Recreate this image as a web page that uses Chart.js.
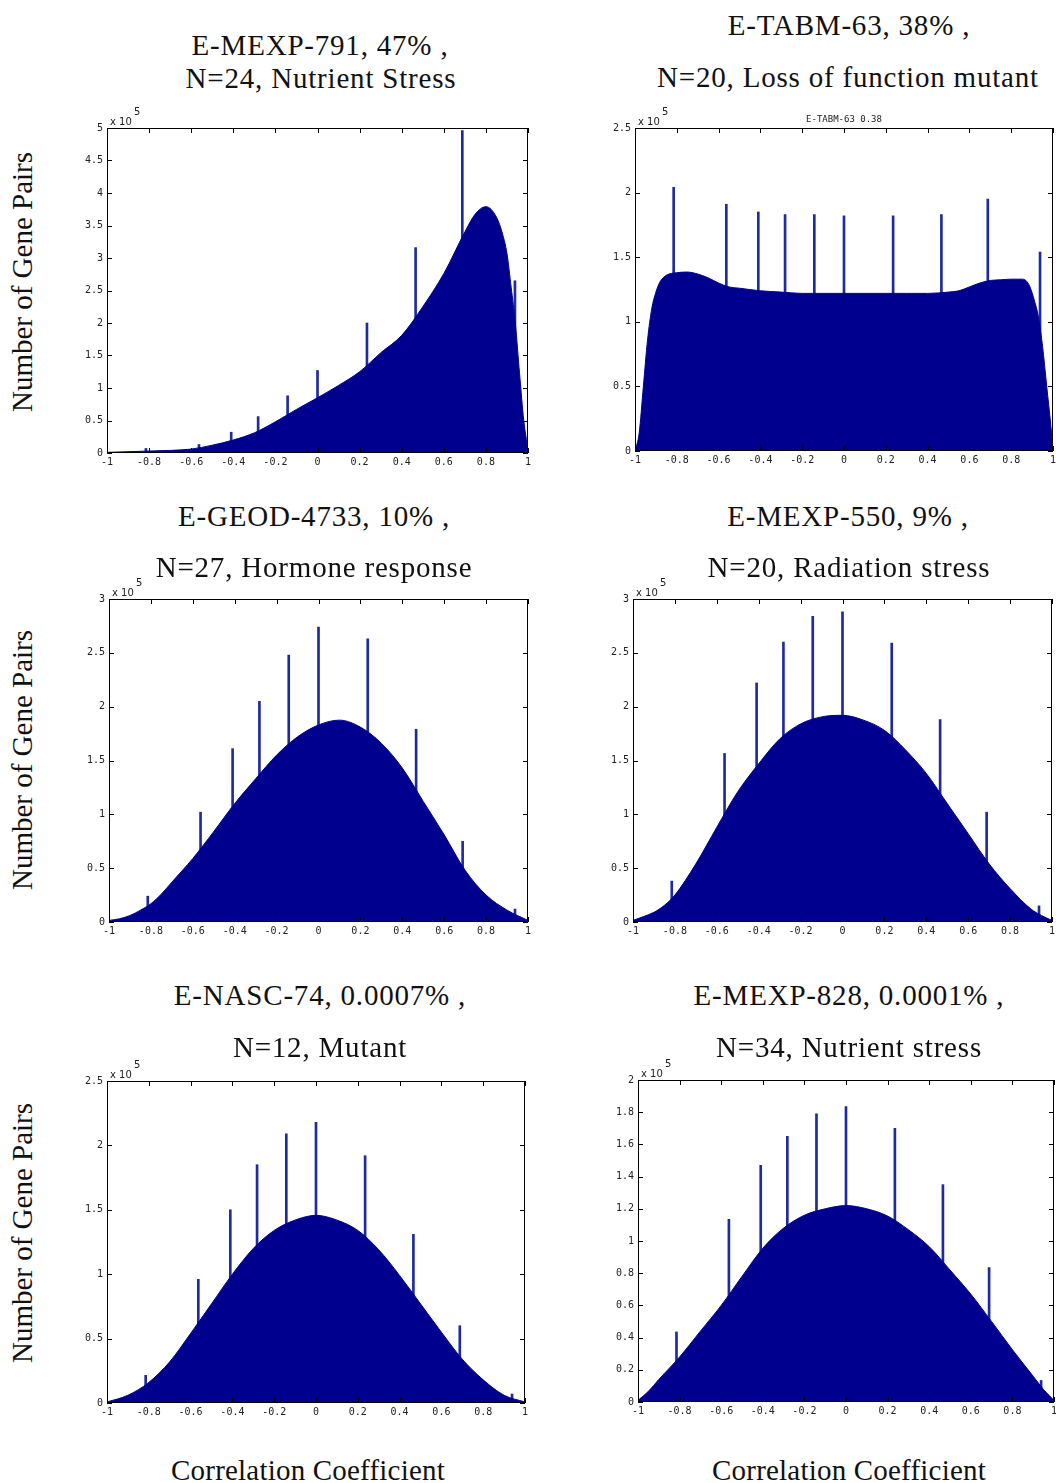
<!DOCTYPE html>
<html>
<head>
<meta charset="utf-8">
<script src="https://cdn.jsdelivr.net/npm/chart.js@4.4.0/dist/chart.umd.min.js"></script>
<style>
  body { margin: 0; background: #fff; width: 1056px; height: 1483px; position: relative; overflow: hidden; }
  canvas { position: absolute; }
  .t { position: absolute; font-family: "Liberation Serif", serif; font-size: 29px; letter-spacing: 0.8px; color: #111; white-space: nowrap; transform: translate(-50%, -50%); }
  .xl { position: absolute; font-family: "Liberation Serif", serif; font-size: 29px; letter-spacing: 0.2px; color: #111; white-space: nowrap; transform: translate(-50%, -50%); }
  .yl { position: absolute; font-family: "Liberation Serif", serif; font-size: 29px; color: #111; white-space: nowrap; transform: translate(-50%, -50%) rotate(-90deg); }
</style>
</head>
<body>
<script>
// spikes sit at the same correlation values in every panel
const spikeX = [-0.815, -0.563, -0.41, -0.282, -0.142, 0, 0.235, 0.466, 0.688, 0.938];

// E-MEXP-791 (counts x 10^5)
const p1X = [-1, -0.9, -0.8, -0.7, -0.6, -0.5, -0.4, -0.3, -0.2, -0.1, 0, 0.1, 0.2, 0.3, 0.4, 0.5, 0.6, 0.7, 0.75, 0.8, 0.85, 0.88, 0.9, 0.92, 0.94, 0.96, 0.98, 1];
const p1Y = [0.01, 0.02, 0.03, 0.04, 0.06, 0.12, 0.2, 0.31, 0.48, 0.67, 0.85, 1.04, 1.25, 1.54, 1.81, 2.25, 2.76, 3.4, 3.68, 3.79, 3.63, 3.36, 3.07, 2.55, 1.99, 1.22, 0.5, 0.05];
const p1Spikes = [0.07, 0.13, 0.32, 0.56, 0.88, 1.27, 2.0, 3.16, 4.96, 2.65];

// E-TABM-63
const p2X = [-1, -0.98, -0.96, -0.94, -0.92, -0.9, -0.88, -0.85, -0.8, -0.75, -0.7, -0.65, -0.6, -0.55, -0.5, -0.4, -0.3, -0.2, -0.1, 0, 0.1, 0.2, 0.3, 0.4, 0.5, 0.55, 0.6, 0.65, 0.7, 0.75, 0.8, 0.85, 0.87, 0.89, 0.91, 0.93, 0.95, 0.97, 0.99, 1];
const p2Y = [0, 0.14, 0.5, 0.86, 1.1, 1.23, 1.31, 1.36, 1.38, 1.385, 1.37, 1.34, 1.30, 1.27, 1.26, 1.24, 1.23, 1.22, 1.22, 1.22, 1.22, 1.22, 1.22, 1.22, 1.23, 1.24, 1.27, 1.30, 1.32, 1.325, 1.33, 1.33, 1.32, 1.27, 1.17, 1.04, 0.81, 0.5, 0.19, 0];
const p2Spikes = [2.04, 1.91, 1.85, 1.83, 1.83, 1.82, 1.82, 1.83, 1.95, 1.54];

// E-GEOD-4733
const p3X = [-1, -0.95, -0.9, -0.85, -0.8, -0.75, -0.7, -0.6, -0.5, -0.4, -0.3, -0.2, -0.1, 0, 0.1, 0.2, 0.3, 0.4, 0.5, 0.6, 0.7, 0.8, 0.9, 0.95, 1];
const p3Y = [0.015, 0.03, 0.06, 0.11, 0.17, 0.26, 0.37, 0.59, 0.84, 1.10, 1.33, 1.55, 1.72, 1.83, 1.875, 1.81, 1.66, 1.43, 1.12, 0.81, 0.48, 0.25, 0.11, 0.06, 0.015];
const p3Spikes = [0.24, 1.02, 1.61, 2.05, 2.48, 2.74, 2.63, 1.79, 0.75, 0.12];

// E-MEXP-550
const p4X = [-1, -0.95, -0.9, -0.85, -0.8, -0.7, -0.6, -0.5, -0.4, -0.3, -0.2, -0.1, 0, 0.1, 0.2, 0.3, 0.4, 0.5, 0.6, 0.7, 0.8, 0.9, 0.95, 1];
const p4Y = [0.015, 0.05, 0.09, 0.155, 0.25, 0.54, 0.88, 1.21, 1.47, 1.70, 1.84, 1.905, 1.92, 1.875, 1.78, 1.6, 1.38, 1.10, 0.82, 0.54, 0.31, 0.12, 0.06, 0.015];
const p4Spikes = [0.38, 1.565, 2.22, 2.60, 2.84, 2.88, 2.59, 1.88, 1.02, 0.15];

// E-NASC-74
const p5X = [-1, -0.9, -0.8, -0.7, -0.6, -0.5, -0.4, -0.3, -0.2, -0.1, 0, 0.1, 0.2, 0.3, 0.4, 0.5, 0.6, 0.7, 0.8, 0.9, 1];
const p5Y = [0.008, 0.06, 0.16, 0.32, 0.54, 0.77, 1.0, 1.2, 1.34, 1.42, 1.457, 1.42, 1.34, 1.19, 0.99, 0.77, 0.55, 0.34, 0.18, 0.06, 0.008];
const p5Spikes = [0.215, 0.96, 1.50, 1.85, 2.09, 2.18, 1.92, 1.31, 0.60, 0.07];

// E-MEXP-828
const p6X = [-1, -0.95, -0.9, -0.8, -0.7, -0.6, -0.5, -0.4, -0.3, -0.2, -0.1, 0, 0.1, 0.2, 0.3, 0.4, 0.5, 0.6, 0.7, 0.8, 0.9, 0.95, 1];
const p6Y = [0.01, 0.066, 0.14, 0.28, 0.44, 0.60, 0.78, 0.955, 1.08, 1.16, 1.20, 1.22, 1.20, 1.155, 1.07, 0.965, 0.82, 0.67, 0.50, 0.325, 0.16, 0.077, 0.01];
const p6Spikes = [0.435, 1.135, 1.47, 1.65, 1.79, 1.835, 1.70, 1.35, 0.835, 0.134];

const titles = [
  ['E-MEXP-791, 47% ,', 'N=24, Nutrient Stress'],
  ['E-TABM-63, 38% ,', 'N=20, Loss of function mutant'],
  ['E-GEOD-4733, 10% ,', 'N=27, Hormone response'],
  ['E-MEXP-550, 9% ,', 'N=20, Radiation stress'],
  ['E-NASC-74, 0.0007% ,', 'N=12, Mutant'],
  ['E-MEXP-828, 0.0001% ,', 'N=34, Nutrient stress'],
];
const yTitle = 'Number of Gene Pairs';
const xTitle = 'Correlation Coefficient';

// plot box [left, top, right, bottom] and title positions
const panels = [
  { x: p1X, y: p1Y, spikes: p1Spikes, yMax: 5, yStep: 0.5, box: [107, 128, 528, 453], tpos: [[320, 45], [321, 78]] },
  { x: p2X, y: p2Y, spikes: p2Spikes, yMax: 2.5, yStep: 0.5, box: [635, 128, 1053, 451], tpos: [[849, 25], [848, 77]], sub: 'E-TABM-63 0.38' },
  { x: p3X, y: p3Y, spikes: p3Spikes, yMax: 3, yStep: 0.5, box: [109, 599, 528, 922], tpos: [[314, 516], [314, 567]] },
  { x: p4X, y: p4Y, spikes: p4Spikes, yMax: 3, yStep: 0.5, box: [633, 599, 1052, 922], tpos: [[848, 516], [849, 567]] },
  { x: p5X, y: p5Y, spikes: p5Spikes, yMax: 2.5, yStep: 0.5, box: [107, 1081, 525, 1403], tpos: [[320, 995], [320, 1047]] },
  { x: p6X, y: p6Y, spikes: p6Spikes, yMax: 2, yStep: 0.2, box: [638, 1080, 1054, 1402], tpos: [[849, 995], [849, 1047]] },
];

const PAD_L = 45, PAD_T = 25, PAD_R = 8, PAD_B = 22;
const tickFont = { family: '"DejaVu Sans Mono", monospace', size: 10 };

// matlab-ish box with inside ticks on all sides + exponent label
const frame = {
  id: 'frame',
  afterDatasetsDraw(chart, args, opts) {
    const { ctx, chartArea: a, scales } = chart;
    ctx.save();
    ctx.strokeStyle = '#000';
    ctx.lineWidth = 1;
    ctx.strokeRect(a.left + 0.5, a.top + 0.5, a.right - a.left - 1, a.bottom - a.top - 1);
    ctx.beginPath();
    scales.x.ticks.forEach(t => {
      const px = Math.round(scales.x.getPixelForValue(t.value)) + 0.5;
      ctx.moveTo(px, a.bottom); ctx.lineTo(px, a.bottom - 5);
      ctx.moveTo(px, a.top); ctx.lineTo(px, a.top + 5);
    });
    scales.y.ticks.forEach(t => {
      const py = Math.round(scales.y.getPixelForValue(t.value)) + 0.5;
      ctx.moveTo(a.left, py); ctx.lineTo(a.left + 5, py);
      ctx.moveTo(a.right, py); ctx.lineTo(a.right - 5, py);
    });
    ctx.stroke();
    ctx.fillStyle = '#222';
    ctx.font = '10px "DejaVu Sans", sans-serif';
    ctx.textAlign = 'left';
    ctx.fillText('x 10', a.left + 3, a.top - 3);
    ctx.fillText('5', a.left + 27, a.top - 13);
    if (opts.sub) {
      ctx.textAlign = 'center';
      ctx.font = '9px "DejaVu Sans Mono", monospace';
      ctx.fillText(opts.sub, (a.left + a.right) / 2, a.top - 6);
    }
    ctx.restore();
  }
};

const fmt = v => String(Math.round(v * 10) / 10);

panels.forEach((p, i) => {
  const [L, T, R, B] = p.box;
  const cv = document.createElement('canvas');
  cv.width = R - L + PAD_L + PAD_R;
  cv.height = B - T + PAD_T + PAD_B;
  cv.style.left = (L - PAD_L) + 'px';
  cv.style.top = (T - PAD_T) + 'px';
  document.body.appendChild(cv);

  new Chart(cv, {
    type: 'line',
    data: {
      datasets: [
        {
          type: 'line',
          data: p.x.map((x, k) => ({ x, y: p.y[k] })),
          fill: 'origin',
          backgroundColor: '#00008f',
          borderColor: '#000096',
          borderWidth: 1,
          pointRadius: 0,
          cubicInterpolationMode: 'monotone',
          order: 1
        },
        {
          type: 'bar',
          data: spikeX.map((x, k) => ({ x, y: p.spikes[k] })),
          backgroundColor: '#1f2aa0',
          barThickness: 2,
          order: 2
        }
      ]
    },
    options: {
      responsive: false,
      animation: false,
      devicePixelRatio: 1,
      layout: { padding: { top: PAD_T, right: PAD_R, left: 0, bottom: 0 } },
      plugins: { legend: { display: false }, tooltip: { enabled: false }, frame: { sub: p.sub } },
      scales: {
        x: {
          type: 'linear', min: -1, max: 1, offset: false,
          ticks: { stepSize: 0.2, autoSkip: false, maxRotation: 0, padding: 3, font: tickFont, color: '#222', callback: fmt },
          grid: { display: false, drawTicks: false, offset: false }, border: { display: false },
          afterFit(s) { s.height = PAD_B; }
        },
        y: {
          min: 0, max: p.yMax,
          ticks: { stepSize: p.yStep, autoSkip: false, padding: 4, font: tickFont, color: '#222', callback: fmt },
          grid: { display: false, drawTicks: false }, border: { display: false },
          afterFit(s) { s.width = PAD_L; }
        }
      }
    },
    plugins: [frame]
  });

  titles[i].forEach((txt, k) => {
    const d = document.createElement('div');
    d.className = 't';
    d.textContent = txt;
    d.style.left = p.tpos[k][0] + 'px';
    d.style.top = p.tpos[k][1] + 'px';
    document.body.appendChild(d);
  });
});

[282, 760, 1233].forEach(y => {
  const d = document.createElement('div');
  d.className = 'yl';
  d.textContent = yTitle;
  d.style.left = '22px';
  d.style.top = y + 'px';
  document.body.appendChild(d);
});
[308, 849].forEach(x => {
  const d = document.createElement('div');
  d.className = 'xl';
  d.textContent = xTitle;
  d.style.left = x + 'px';
  d.style.top = '1470px';
  document.body.appendChild(d);
});
</script>
</body>
</html>
